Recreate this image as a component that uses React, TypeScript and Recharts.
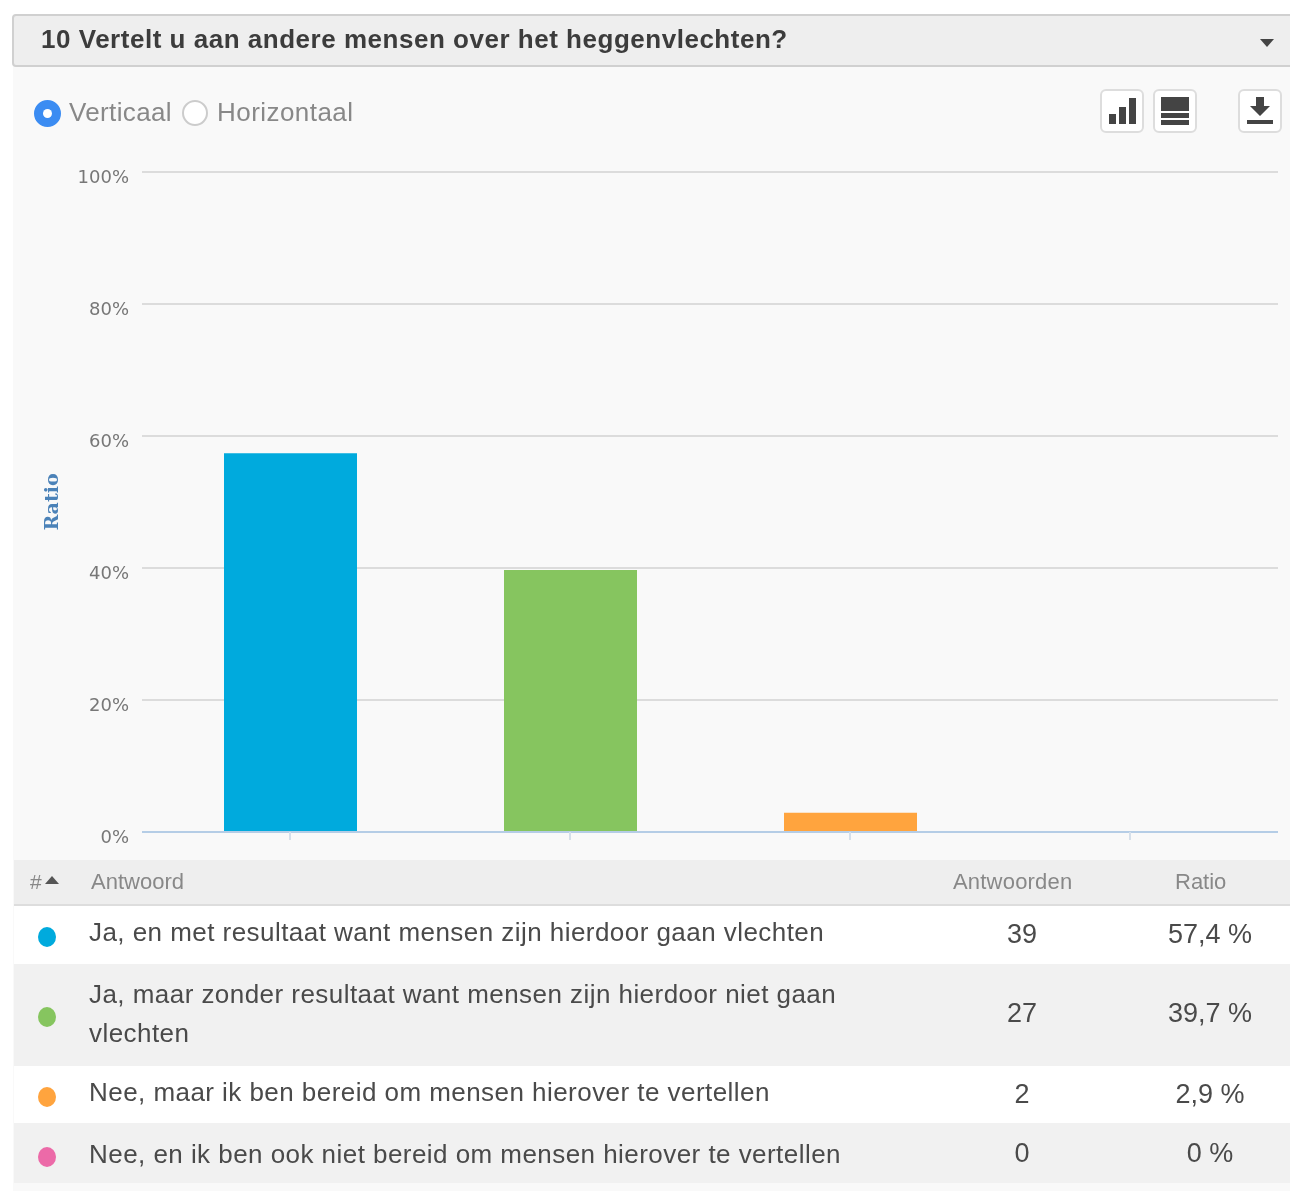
import { Bar, BarChart, CartesianGrid, Cell, XAxis, YAxis } from "recharts";

const answers = [
  "Ja, en met resultaat want mensen zijn hierdoor gaan vlechten",
  "Ja, maar zonder resultaat want mensen zijn hierdoor niet gaan vlechten",
  "Nee, maar ik ben bereid om mensen hierover te vertellen",
  "Nee, en ik ben ook niet bereid om mensen hierover te vertellen",
];
const counts = [39, 27, 2, 0];
const ratios = [57.4, 39.7, 2.9, 0];
const ratioLabels = ["57,4 %", "39,7 %", "2,9 %", "0 %"];
const colors = ["#00aadd", "#86c55f", "#ffa43e", "#ec6aa8"];
const yTicks = [0, 20, 40, 60, 80, 100];

const data = answers.map((name, i) => ({ name, ratio: ratios[i] }));

const sans = "'Liberation Sans', Arial, sans-serif";
const tickFont = "'DejaVu Sans', sans-serif";

const rows = [
  { top: 906, height: 58, bg: "#ffffff", dot: 937, textTop: 928, valueY: 934 },
  { top: 964, height: 102, bg: "#f1f1f1", dot: 1017, textTop: 990, valueY: 1013 },
  { top: 1066, height: 57, bg: "#ffffff", dot: 1097, textTop: 1088, valueY: 1094 },
  { top: 1123, height: 60, bg: "#f1f1f1", dot: 1157, textTop: 1150, valueY: 1153 },
];

function Abs({ x, y, style, children }: any) {
  return (
    <div style={{ position: "absolute", left: x, top: y, whiteSpace: "nowrap", ...style }}>
      {children}
    </div>
  );
}

function IconButton({ x, children }: any) {
  return (
    <div
      style={{
        position: "absolute",
        left: x,
        top: 89,
        width: 44,
        height: 44,
        boxSizing: "border-box",
        background: "#fff",
        border: "2px solid #ddd",
        borderRadius: 6,
      }}
    >
      <svg width={40} height={40} style={{ display: "block" }}>
        {children}
      </svg>
    </div>
  );
}

export default function App() {
  return (
    <div
      style={{
        position: "absolute",
        left: 0,
        top: 0,
        width: 1290,
        height: 1191,
        background: "#fff",
        overflow: "hidden",
        fontFamily: sans,
        filter: "blur(0.7px)",
      }}
    >
      <div style={{ position: "absolute", left: 13, top: 66, width: 1277, height: 1125, background: "#f9f9f9" }} />
      <div
        style={{
          position: "absolute",
          left: 12,
          top: 14,
          width: 1290,
          height: 53,
          boxSizing: "border-box",
          background: "#eeeeee",
          border: "2px solid #d0d0d0",
          borderRadius: 4,
        }}
      />
      <Abs x={41} y={24} style={{ fontSize: 26, fontWeight: 700, color: "#3c3c3c", lineHeight: "30px", letterSpacing: 0.52 }}>
        10 Vertelt u aan andere mensen over het heggenvlechten?
      </Abs>
      <svg style={{ position: "absolute", left: 1260, top: 39 }} width={14} height={8}>
        <path d="M0 0 H14 L7 8 Z" fill="#444" />
      </svg>

      <div style={{ position: "absolute", left: 34, top: 100, width: 27, height: 27, borderRadius: "50%", background: "#3b8cf2", boxSizing: "border-box", border: "9px solid #3b8cf2" }}>
        <div style={{ width: 9, height: 9, borderRadius: "50%", background: "#fff" }} />
      </div>
      <Abs x={69} y={97} style={{ fontSize: 26, color: "#888", lineHeight: "30px", letterSpacing: 0.35 }}>Verticaal</Abs>
      <div style={{ position: "absolute", left: 182, top: 100, width: 26, height: 26, borderRadius: "50%", background: "#fff", boxSizing: "border-box", border: "2px solid #ccc" }} />
      <Abs x={217} y={97} style={{ fontSize: 26, color: "#888", lineHeight: "30px", letterSpacing: 0.45 }}>Horizontaal</Abs>

      <IconButton x={1100}>
        <rect x={7} y={23} width={7} height={10} fill="#444" />
        <rect x={17} y={16} width={7} height={17} fill="#444" />
        <rect x={27} y={7} width={7} height={26} fill="#444" />
      </IconButton>
      <IconButton x={1153}>
        <rect x={6} y={6} width={28} height={14} fill="#444" />
        <rect x={6} y={22} width={28} height={5} fill="#444" />
        <rect x={6} y={29} width={28} height={5} fill="#444" />
      </IconButton>
      <IconButton x={1238}>
        <path d="M16 6 H24 V15 H30 L20 25 L10 15 H16 Z" fill="#444" />
        <rect x={7} y={29} width={26} height={4} fill="#444" />
      </IconButton>

      <div style={{ position: "absolute", left: 0, top: 150 }}>
        <BarChart
          width={1290}
          height={710}
          data={data}
          margin={{ top: 22, right: 12, bottom: 0, left: 0 }}
          barCategoryGap={0}
          barSize={133}
        >
          <CartesianGrid vertical={false} stroke="#dcdcdc" strokeWidth={2} />
          <XAxis
            dataKey="name"
            axisLine={{ stroke: "#b5cde6", strokeWidth: 2 }}
            tickLine={{ stroke: "#d5dfea", strokeWidth: 2 }}
            tickSize={8}
            tickFormatter={() => ""}
            interval={0}
            padding={{ left: 8, right: 8 }}
            height={28}
          />
          <YAxis
            type="number"
            domain={[0, 100]}
            ticks={yTicks}
            tickFormatter={(v) => `${v}%`}
            axisLine={false}
            tickLine={false}
            tickMargin={7}
            width={142}
            tick={{ fill: "#777", fontSize: 18, fontFamily: tickFont, dy: 5 }}
            label={{
              value: "Ratio",
              angle: -90,
              position: "insideLeft",
              offset: 51,
              style: { fill: "#4b82b8", fontSize: 19, fontWeight: 700, fontFamily: "'DejaVu Serif', serif", textAnchor: "middle" },
            }}
          />
          <Bar dataKey="ratio" isAnimationActive={false}>
            {data.map((d, i) => (
              <Cell key={d.name} fill={colors[i]} />
            ))}
          </Bar>
        </BarChart>
      </div>

      <div style={{ position: "absolute", left: 14, top: 860, width: 1276, height: 46, background: "#eeeeee", borderBottom: "2px solid #ddd", boxSizing: "border-box" }} />
      <Abs x={30} y={870} style={{ fontSize: 21, color: "#888", lineHeight: "24px" }}>#</Abs>
      <svg style={{ position: "absolute", left: 45, top: 876 }} width={14} height={8}>
        <path d="M0 8 H14 L7 0 Z" fill="#555" />
      </svg>
      <Abs x={91} y={870} style={{ fontSize: 22, color: "#888", lineHeight: "24px" }}>Antwoord</Abs>
      <Abs x={953} y={870} style={{ fontSize: 22, color: "#888", lineHeight: "24px", letterSpacing: 0.2 }}>Antwoorden</Abs>
      <Abs x={1175} y={870} style={{ fontSize: 22, color: "#888", lineHeight: "24px" }}>Ratio</Abs>

      {rows.map((r, i) => (
        <div key={answers[i]}>
          <div style={{ position: "absolute", left: 14, top: r.top, width: 1276, height: r.height, background: r.bg }} />
          <div style={{ position: "absolute", left: 38, top: r.dot - 10, width: 18, height: 20, borderRadius: "50%", background: colors[i] }} />
          <div
            style={{
              position: "absolute",
              left: 89,
              top: r.textTop - 15,
              width: 760,
              fontSize: 26,
              letterSpacing: 0.45,
              lineHeight: "39px",
              color: "#4a4a4a",
            }}
          >
            {answers[i]}
          </div>
          <Abs x={922} y={r.valueY - 15} style={{ width: 200, textAlign: "center", fontSize: 27, color: "#4a4a4a", lineHeight: "30px" }}>{counts[i]}</Abs>
          <Abs x={1110} y={r.valueY - 15} style={{ width: 200, textAlign: "center", fontSize: 27, color: "#4a4a4a", lineHeight: "30px" }}>{ratioLabels[i]}</Abs>
        </div>
      ))}
    </div>
  );
}
